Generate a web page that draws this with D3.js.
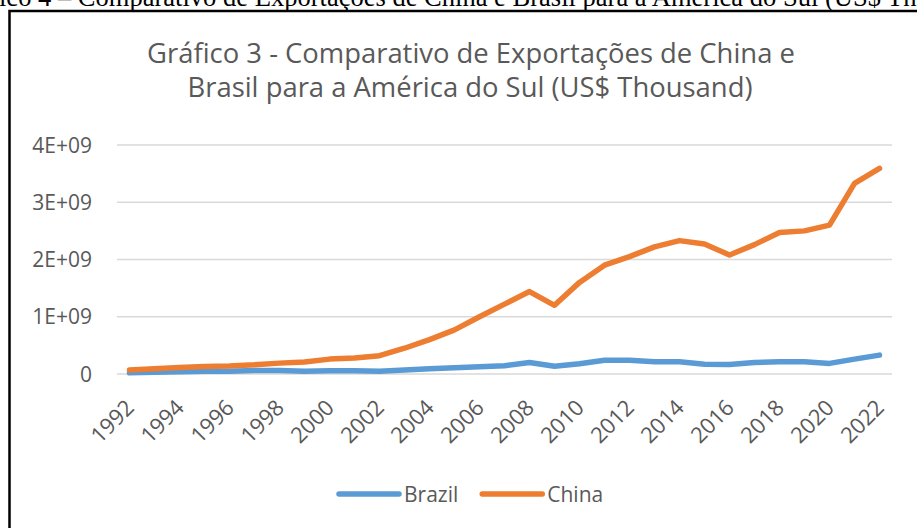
<!DOCTYPE html>
<html>
  <head>
    <meta charset="UTF-8" />
    <title></title>
    <style>
      body { margin: 0; background: #fff; }
      svg { display: block; }
    </style>
    <script src="https://d3js.org/d3.v7.min.js"></script>
  </head>
  <body>
    <div id="viz"></div>
    <script>
      const years = d3.range(1992, 2023);
      // values in billions of US$ thousand
      const brazil = [0.02, 0.03, 0.04, 0.05, 0.05, 0.06, 0.06, 0.05, 0.055, 0.055,
        0.05, 0.07, 0.09, 0.11, 0.125, 0.145, 0.2, 0.135, 0.18, 0.24,
        0.24, 0.215, 0.215, 0.17, 0.165, 0.2, 0.215, 0.215, 0.185, 0.26, 0.33];
      const china = [0.07, 0.09, 0.115, 0.13, 0.14, 0.16, 0.19, 0.21, 0.26, 0.28,
        0.32, 0.45, 0.6, 0.77, 1.0, 1.22, 1.44, 1.2, 1.6, 1.9,
        2.05, 2.22, 2.33, 2.27, 2.08, 2.26, 2.47, 2.5, 2.6, 3.33, 3.59];
      const yTicks = [0, 1e9, 2e9, 3e9, 4e9];
      const yTickLabels = ['0', '1E+09', '2E+09', '3E+09', '4E+09'];
      const series = [
        { name: 'Brazil', values: brazil, color: '#5B9BD5' },
        { name: 'China', values: china, color: '#ED7D31' },
      ];

      const width = 917, height = 528;
      const svg = d3.select('#viz').append('svg')
        .attr('width', width).attr('height', height);

      // caption of the page above the chart (cut off in the picture)
      const capText = 'Gráfico 4 – Comparativo de Exportações de China e Brasil para a América do Sul (US$ Thousand)';
      const cap = svg.append('text')
        .attr('y', 6)
        .style('font-family', '"Liberation Serif", "Times New Roman", serif')
        .style('font-size', '24px')
        .attr('fill', '#000')
        .text(capText);
      // scale so that "ico 4 ... (US$ Th" spans the width, like the scan
      const endIdx = capText.indexOf('Thousand') + 2;
      const span = cap.node().getSubStringLength(4, endIdx - 4);
      const capSize = 24 * 918 / span;
      cap.style('font-size', capSize + 'px');
      cap.attr('x', -cap.node().getSubStringLength(0, 4) - 1);

      // chart border
      svg.append('rect')
        .attr('x', 9.5).attr('y', 11)
        .attr('width', 930).attr('height', 540)
        .attr('fill', 'none').attr('stroke', '#000').attr('stroke-width', 2.5);

      const gray = '#595959';
      const font = '"Open Sans", sans-serif';

      // title
      const titleLines = ['Gráfico 3 - Comparativo de Exportações de China e',
        'Brasil para a América do Sul (US$ Thousand)'];
      const title = svg.append('g');
      const t1 = title.append('text').attr('x', 471).attr('y', 63)
        .attr('text-anchor', 'middle').attr('fill', gray)
        .style('font-family', font).style('font-size', '26px').text(titleLines[0]);
      const fs = 26 * 648 / t1.node().getComputedTextLength();
      t1.style('font-size', fs + 'px');
      title.append('text').attr('x', 470).attr('y', 97)
        .attr('text-anchor', 'middle').attr('fill', gray)
        .style('font-family', font).style('font-size', fs + 'px').text(titleLines[1]);

      const x = d3.scalePoint().domain(years).range([117, 892]).padding(0.5);
      const y = d3.scaleLinear().domain([0, 4e9]).range([374, 145]);

      // gridlines
      svg.append('g').selectAll('line').data(yTicks).join('line')
        .attr('x1', 117).attr('x2', 892)
        .attr('y1', (d) => y(d)).attr('y2', (d) => y(d))
        .attr('stroke', '#D9D9D9').attr('stroke-width', 1.5);

      // y labels
      svg.append('g').selectAll('text').data(yTicks).join('text')
        .attr('x', 92).attr('y', (d) => y(d)).attr('dy', '0.36em')
        .attr('text-anchor', 'end').attr('fill', gray)
        .style('font-family', font).style('font-size', '21px')
        .text((d, i) => yTickLabels[i]);

      // x labels
      svg.append('g').selectAll('text').data(years.filter((d) => d % 2 === 0)).join('text')
        .attr('text-anchor', 'end').attr('fill', gray)
        .style('font-family', font).style('font-size', '22px')
        .attr('transform', (d) => `translate(${x(d) + 6},${y(0) + 35}) rotate(-45)`)
        .text((d) => d);

      // lines
      const line = d3.line()
        .x((d, i) => x(years[i]))
        .y((d) => y(d * 1e9));
      svg.append('g').selectAll('path').data(series).join('path')
        .attr('d', (d) => line(d.values))
        .attr('fill', 'none')
        .attr('stroke', (d) => d.color)
        .attr('stroke-width', 5.5)
        .attr('stroke-linejoin', 'round')
        .attr('stroke-linecap', 'round');

      // legend
      const legend = svg.append('g');
      let lx = 339;
      series.forEach((s) => {
        legend.append('line')
          .attr('x1', lx).attr('x2', lx + 60).attr('y1', 494).attr('y2', 494)
          .attr('stroke', s.color).attr('stroke-width', 5.5).attr('stroke-linecap', 'round');
        const t = legend.append('text')
          .attr('x', lx + 65).attr('y', 501.5).attr('fill', gray)
          .style('font-family', font).style('font-size', '21px').text(s.name);
        lx += 65 + t.node().getComputedTextLength() + 24;
      });
    </script>
  </body>
</html>
